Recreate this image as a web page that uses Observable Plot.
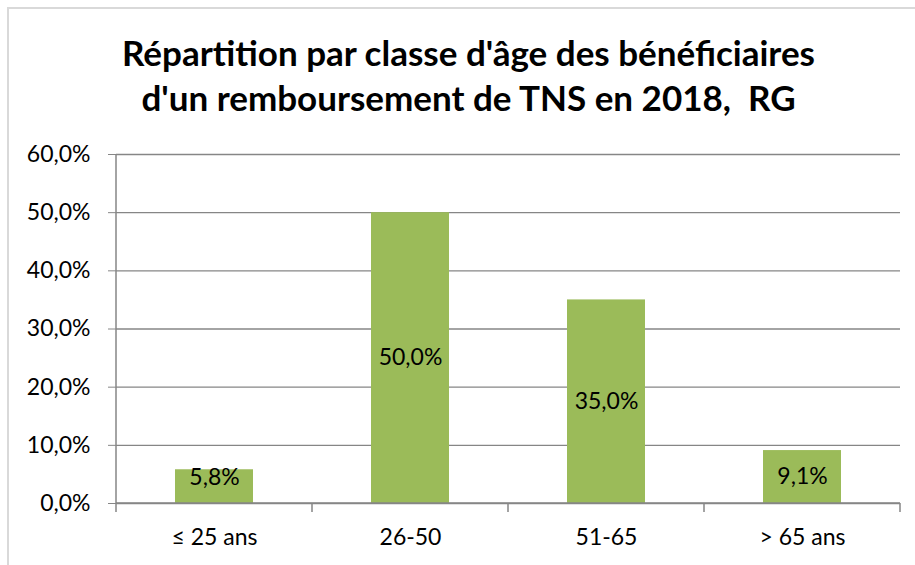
<!DOCTYPE html>
<html>
<head>
<meta charset="utf-8">
<script src="https://cdn.jsdelivr.net/npm/d3@7"></script>
<script src="https://cdn.jsdelivr.net/npm/@observablehq/plot@0.6"></script>
<style>
  html, body { margin: 0; padding: 0; background: #fff; }
  #wrap { position: relative; width: 915px; height: 565px; overflow: hidden; font-family: Lato, "Open Sans", sans-serif; }
  #frame { position: absolute; left: 7px; top: 7px; right: -5px; bottom: -5px; border-left: 2px solid #d9d9d9; border-top: 2px solid #d9d9d9; }
  #title { position: absolute; left: 0; top: 0; width: 937px; height: 140px; text-align: center; font-weight: bold; font-size: 35px; line-height: 45px; padding-top: 30px; box-sizing: border-box; color: #000; }
  #chart { position: absolute; left: 0; top: 140px; }
</style>
</head>
<body>
<div id="wrap">
  <div id="frame"></div>
  <div id="title"></div>
  <div id="chart"></div>
</div>
<script>
const titleLines = ["Répartition par classe d'âge des bénéficiaires", "d'un remboursement de TNS en 2018,  RG"];
const categories = ["≤ 25 ans", "26-50", "51-65", "> 65 ans"];
const values = [5.8, 50.0, 35.0, 9.1];
const yTicks = [0, 10, 20, 30, 40, 50, 60];

const data = categories.map((c, i) => ({category: c, value: values[i]}));
const fmt = d => d.toFixed(1).replace(".", ",") + "%";

const title = document.getElementById("title");
titleLines.forEach(t => { const d = document.createElement("div"); d.textContent = t; d.style.whiteSpace = "pre"; title.appendChild(d); });

const plot = Plot.plot({
  width: 915,
  height: 425,
  marginLeft: 116,
  marginRight: 15,
  marginTop: 14,
  marginBottom: 62,
  style: {fontFamily: "Lato, 'Open Sans', sans-serif", fontSize: "23px", color: "#000", background: "transparent"},
  x: {domain: categories, paddingInner: 0.6, paddingOuter: 0.3, label: null},
  y: {domain: [0, 60], label: null},
  marks: [
    Plot.ruleY(yTicks, {y: d => d, stroke: "#868686", strokeWidth: 1.3, strokeOpacity: 1}),
    Plot.axisY({ticks: yTicks, tickFormat: fmt, tickSize: 8, tickPadding: 18, stroke: "#868686", fontSize: 23, label: null}),
    Plot.barY(data, {x: "category", y: "value", fill: "#9BBB59"}),
    (index, scales, values, dims) => {
      const g = d3.create("svg:g");
      const x0 = dims.marginLeft, x1 = dims.width - dims.marginRight;
      const y0 = dims.height - dims.marginBottom;
      g.append("line").attr("x1", x0).attr("x2", x0).attr("y1", dims.marginTop).attr("y2", y0).attr("stroke", "#868686").attr("stroke-width", 1.5);
      g.append("line").attr("x1", x0).attr("x2", x1).attr("y1", y0).attr("y2", y0).attr("stroke", "#868686").attr("stroke-width", 1.5);
      const step = (x1 - x0) / categories.length;
      for (let i = 0; i <= categories.length; i++) {
        g.append("line").attr("x1", x0 + i * step).attr("x2", x0 + i * step).attr("y1", y0).attr("y2", y0 + 9).attr("stroke", "#868686").attr("stroke-width", 1.5);
      }
      return g.node();
    },
    Plot.text(data, {x: "category", y: d => Math.max(d.value / 2, 4.4), text: d => fmt(d.value), fontSize: 23, fill: "#000"}),
    Plot.axisX({tickSize: 0, tickPadding: 25, fontSize: 23, label: null})
  ]
});
document.getElementById("chart").appendChild(plot);
</script>
</body>
</html>
